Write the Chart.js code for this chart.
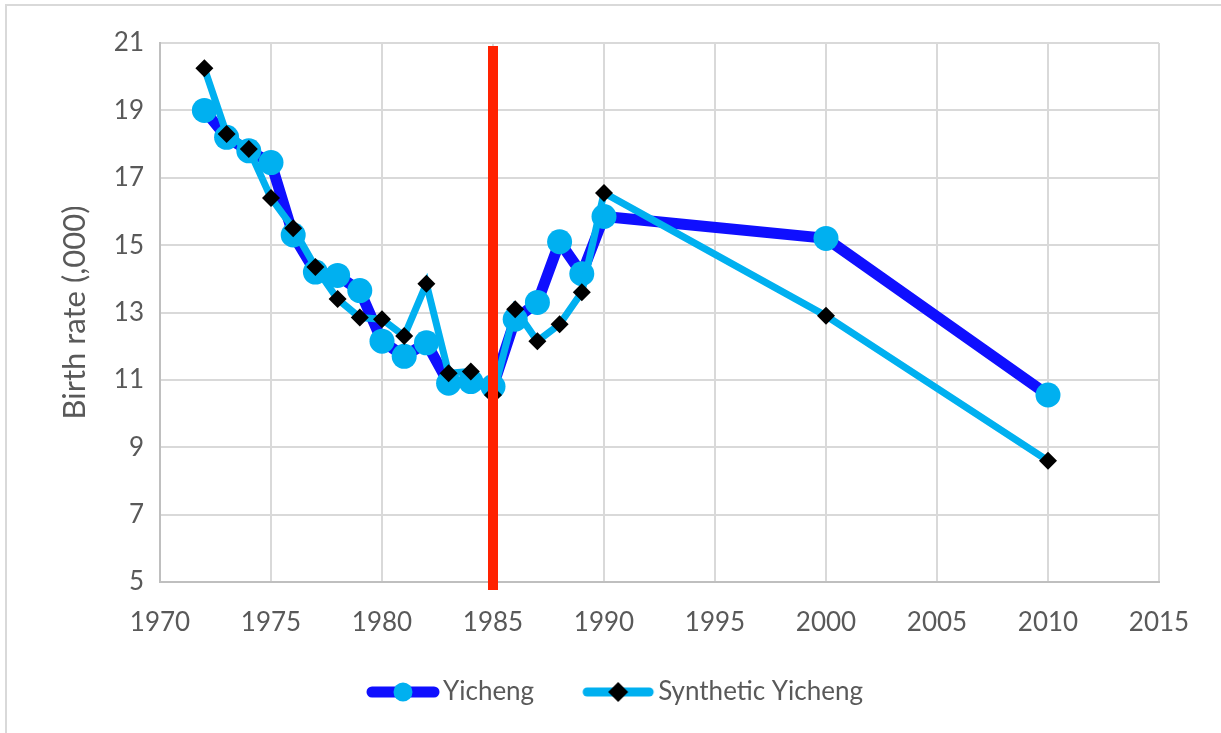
<!DOCTYPE html>
<html>
<head>
<meta charset="utf-8">
<script src="https://cdn.jsdelivr.net/npm/chart.js@4.4.1/dist/chart.umd.min.js"></script>
<style>
  html, body { margin: 0; padding: 0; background: #ffffff; }
  #wrap { position: relative; width: 1221px; height: 733px; }
  #frameTop { position: absolute; left: 5px; top: 4px; width: 1216px; height: 2px; background: #d9d9d9; }
  #frameLeft { position: absolute; left: 5px; top: 4px; width: 2px; height: 729px; background: #d9d9d9; }
  canvas { position: absolute; left: 0; top: 0; }
</style>
</head>
<body>
<div id="wrap">
  <canvas id="c" width="1221" height="733"></canvas>
  <div id="frameTop"></div>
  <div id="frameLeft"></div>
</div>
<script>
// ---- data ----
const years = [1972, 1973, 1974, 1975, 1976, 1977, 1978, 1979, 1980, 1981, 1982, 1983, 1984, 1985, 1986, 1987, 1988, 1989, 1990, 2000, 2010];
const yicheng = [19.0, 18.2, 17.8, 17.45, 15.3, 14.2, 14.1, 13.65, 12.15, 11.7, 12.1, 10.9, 10.95, 10.8, 12.8, 13.3, 15.1, 14.15, 15.85, 15.2, 10.55];
const synthetic = [20.25, 18.3, 17.85, 16.4, 15.5, 14.35, 13.4, 12.85, 12.8, 12.3, 13.85, 11.2, 11.25, 10.55, 13.1, 12.15, 12.65, 13.6, 16.55, 12.9, 8.6];
const seriesNames = ['Yicheng', 'Synthetic Yicheng'];
const treatmentYear = 1985;
const yTicks = [5, 7, 9, 11, 13, 15, 17, 19, 21];
const xTicks = [1970, 1975, 1980, 1985, 1990, 1995, 2000, 2005, 2010, 2015];
const yTitle = 'Birth rate (,000)';

const DARK = '#0f0fff';
const LIGHT = '#00b0f0';
const RED = '#ff2200';
const TXT = '#595959';
const FONT = 'Lato, "Open Sans", sans-serif';

function pts(vals) { return years.map((yr, i) => ({ x: yr, y: vals[i] })); }

function legendIcon(kind) {
  const c = document.createElement('canvas');
  c.width = 84; c.height = 26;
  const g = c.getContext('2d');
  g.lineCap = 'round';
  if (kind === 0) {
    g.strokeStyle = DARK; g.lineWidth = 11;
    g.beginPath(); g.moveTo(16, 13); g.lineTo(78, 13); g.stroke();
    g.fillStyle = LIGHT; g.beginPath(); g.arc(47, 13, 9.5, 0, Math.PI * 2); g.fill();
  } else {
    g.strokeStyle = LIGHT; g.lineWidth = 9;
    g.beginPath(); g.moveTo(16, 13); g.lineTo(78, 13); g.stroke();
    g.fillStyle = '#000'; g.beginPath();
    g.moveTo(47 - 10, 13); g.lineTo(47, 3); g.lineTo(47 + 10, 13); g.lineTo(47, 23); g.closePath(); g.fill();
  }
  return c;
}
const icons = [legendIcon(0), legendIcon(1)];

const redLine = {
  id: 'redLine',
  afterDatasetsDraw(chart) {
    const x = chart.scales.x.getPixelForValue(treatmentYear);
    const a = chart.chartArea;
    const ctx = chart.ctx;
    ctx.save();
    ctx.fillStyle = RED;
    ctx.fillRect(x - 5, a.top + 3, 10, a.bottom - a.top + 5);
    ctx.restore();
  }
};

new Chart(document.getElementById('c'), {
  type: 'line',
  data: {
    datasets: [
      {
        label: seriesNames[0],
        data: pts(yicheng),
        borderColor: DARK,
        borderWidth: 11,
        pointStyle: 'circle',
        pointRadius: 12.5,
        pointBackgroundColor: LIGHT,
        pointBorderColor: LIGHT,
        pointBorderWidth: 0,
        order: 1,
        tension: 0
      },
      {
        label: seriesNames[1],
        data: pts(synthetic),
        borderColor: LIGHT,
        borderWidth: 7,
        pointStyle: 'rectRot',
        pointRadius: 9,
        pointBackgroundColor: '#000',
        pointBorderColor: '#000',
        pointBorderWidth: 0,
        order: 0,
        tension: 0
      }
    ]
  },
  options: {
    responsive: false,
    animation: false,
    events: [],
    layout: { padding: { left: 8, right: 0, top: 43, bottom: 18 } },
    plugins: {
      tooltip: { enabled: false },
      legend: {
        position: 'bottom',
        labels: {
          usePointStyle: true,
          pointStyleWidth: 64,
          padding: 47,
          color: TXT,
          font: { family: FONT, size: 26 },
          sort: (a, b) => a.datasetIndex - b.datasetIndex,
          generateLabels(chart) {
            return chart.data.datasets.map((ds, i) => ({
              text: ds.label,
              fillStyle: 'transparent',
              strokeStyle: 'transparent',
              lineWidth: 0,
              pointStyle: icons[i],
              hidden: false,
              datasetIndex: i,
              fontColor: TXT
            }));
          }
        }
      }
    },
    scales: {
      x: {
        type: 'linear',
        min: xTicks[0],
        max: xTicks[xTicks.length - 1],
        afterBuildTicks(s) { s.ticks = xTicks.map(v => ({ value: v })); },
        afterFit(s) { s.height = 50; },
        grid: { color: '#d9d9d9', lineWidth: 2, drawTicks: false },
        border: { color: '#bfbfbf', width: 2 },
        ticks: { color: TXT, font: { family: FONT, size: 26 }, padding: 25, callback: v => String(v) }
      },
      y: {
        min: yTicks[0],
        max: yTicks[yTicks.length - 1],
        afterBuildTicks(s) { s.ticks = yTicks.map(v => ({ value: v })); },
        afterFit(s) { s.width = 152; },
        grid: { color: '#d9d9d9', lineWidth: 2, drawTicks: false },
        border: { color: '#bfbfbf', width: 2 },
        ticks: { color: TXT, font: { family: FONT, size: 26 }, padding: 16 },
        title: { display: true, text: yTitle, color: TXT, font: { family: FONT, size: 31 }, padding: { top: 48, bottom: 0 } }
      },
      y2: {
        position: 'right',
        display: true,
        grid: { display: false },
        border: { display: false },
        ticks: { display: false },
        afterFit(s) { s.width = 62; }
      }
    }
  },
  plugins: [redLine]
});
</script>
</body>
</html>
